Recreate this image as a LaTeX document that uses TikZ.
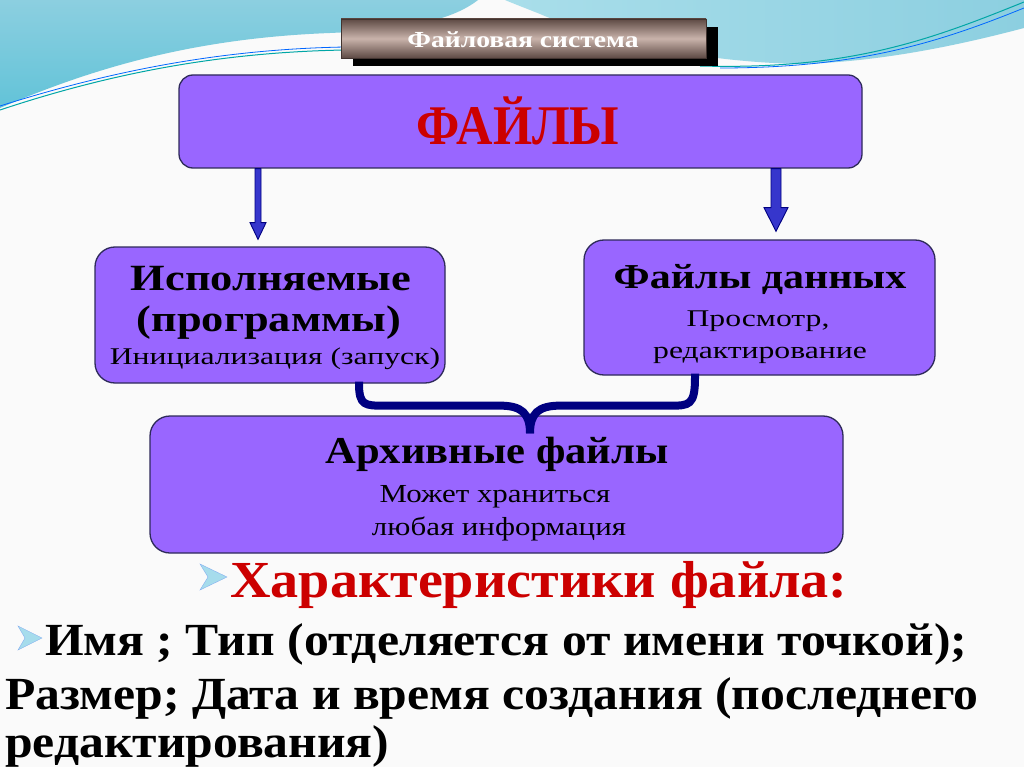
\documentclass[tikz,border=0pt]{standalone}
\usepackage{fontspec}
\setmainfont{Liberation Serif}
\newfontfamily\capfont[FakeStretch=1.08]{Liberation Serif}
\newfontfamily\wideB[FakeStretch=1.2]{Liberation Serif}
\newfontfamily\wideR[FakeStretch=1.32]{Liberation Serif}
\newfontfamily\archB[FakeStretch=1.12]{Liberation Serif}
\newfontfamily\archR[FakeStretch=1.19]{Liberation Serif}
\newfontfamily\tallfont[FakeStretch=0.9]{Liberation Serif}
\usetikzlibrary{calc}
\definecolor{boxpurple}{HTML}{9966FF}
\definecolor{boxedge}{HTML}{2E2A5A}
\definecolor{redtext}{HTML}{CC0000}
\definecolor{arrowblue}{HTML}{3636CC}
\definecolor{navy}{HTML}{000080}
\definecolor{bgblueA}{HTML}{62C3D8}
\definecolor{bgblueB}{HTML}{8CCFE0}
\definecolor{bgblueC}{HTML}{A9DEEA}
\definecolor{bullblue}{HTML}{A6DCEC}
\definecolor{metaldark}{HTML}{5E4A44}
\definecolor{metallight}{HTML}{C9B3AB}
\tikzset{
  purplebox/.style={draw=boxedge, line width=1.3pt, fill=boxpurple, rounded corners=#1},
  purplebox/.default=14pt,
  arrowshape/.style={draw=navy, line width=0.9pt, fill=arrowblue},
  bracepath/.style={draw=navy, line width=8pt, line cap=butt},
  bullet/.style={fill=bullblue, draw=bullblue!80!blue, line width=0.4pt},
  txt/.style={inner sep=0pt, anchor=base},
}
\begin{document}
\begin{tikzpicture}[x=1pt,y=-1pt]
\useasboundingbox (0,0) rectangle (1024,767);
% background
\fill[white!96!gray] (0,0) rectangle (1024,767);
% top-left blue wave
\shade[top color=bgblueB, bottom color=bgblueA] (0,0) -- (478,0) .. controls (450,22) and (400,30) .. (330,33)
  .. controls (200,38) and (100,65) .. (0,108) -- cycle;
% top-right blue wave
\shade[left color=bgblueC, right color=bgblueB] (505,0) -- (1024,0) -- (1024,28)
  .. controls (960,45) and (880,62) .. (800,64) .. controls (700,62) and (600,40) .. (540,14) .. controls (525,8) and (512,3) .. (505,0) -- cycle;
% thin lines
\draw[teal!70!cyan, line width=1pt] (0,110) .. controls (120,70) and (230,52) .. (345,50);
\draw[blue!60!cyan, line width=0.8pt] (0,106) .. controls (120,68) and (230,49) .. (345,47);
\draw[teal!70!cyan, line width=1pt] (1024,2) .. controls (930,40) and (850,70) .. (700,66);
\draw[blue!60!cyan, line width=0.8pt] (1024,8) .. controls (940,42) and (860,68) .. (720,68);

% title box
\fill[black] (353,27) rectangle (718,66);
\node[shade, top color=metaldark, bottom color=metaldark, middle color=metallight,
  draw=metaldark!70!black, line width=0.4pt, minimum width=365pt, minimum height=39pt,
  inner sep=0pt] (title) at (523.5,38.5) {};
\node[txt, text=white, font=\wideB\bfseries\fontsize{23}{23}\selectfont] (titletext) at (523,48) {Файловая система};

% main boxes
\node[purplebox=14pt, minimum width=683pt, minimum height=93pt, inner sep=0pt] (files) at (520.5,121.5) {};
\node[txt, text=redtext, font=\tallfont\bfseries\fontsize{56}{56}\selectfont] (filestext) at (518,145) {ФАЙЛЫ};

\node[purplebox=20pt, minimum width=350pt, minimum height=136pt, inner sep=0pt] (exec) at (270,315) {};
\node[txt, font=\wideB\bfseries\fontsize{37}{37}\selectfont] (exec1) at (271,290) {Исполняемые};
\node[txt, font=\wideB\bfseries\fontsize{37}{37}\selectfont] (exec2) at (269,331) {(программы)};
\node[txt, font=\wideR\fontsize{24}{24}\selectfont] (exec3) at (275,364) {Инициализация (запуск)};

\node[purplebox=20pt, minimum width=351pt, minimum height=135pt, inner sep=0pt] (data) at (759.5,307.5) {};
\node[txt, font=\wideB\bfseries\fontsize{35}{35}\selectfont] (data1) at (760,288) {Файлы данных};
\node[txt, font=\wideR\fontsize{24}{24}\selectfont] (data2) at (758,326) {Просмотр,};
\node[txt, font=\wideR\fontsize{24}{24}\selectfont] (data3) at (760,358) {редактирование};

\node[purplebox=20pt, minimum width=693pt, minimum height=137pt, inner sep=0pt] (arch) at (496.5,484.5) {};
\node[txt, font=\archB\bfseries\fontsize{38}{38}\selectfont] (arch1) at (497,463) {Архивные файлы};
\node[txt, font=\archR\fontsize{26}{26}\selectfont] (arch2) at (495,502) {Может храниться};
\node[txt, font=\archR\fontsize{26}{26}\selectfont] (arch3) at (499,535) {любая информация};

% arrows
\coordinate (lx) at (258,0);
\coordinate (rx) at (776,0);
\draw[arrowshape] ($(files.south -| lx)+(-3,0)$) -- ++(0,54) -- ++(-5,0) -- ($(exec.north -| lx)+(0,-7)$)
  -- ($(files.south -| lx)+(8,54)$) -- ++(-5,0) -- ($(files.south -| lx)+(3,0)$) -- cycle;
\draw[arrowshape] ($(files.south -| rx)+(-5,0)$) -- ++(0,39) -- ++(-7,0) -- ($(data.north -| rx)+(0,-8)$)
  -- ($(files.south -| rx)+(12,39)$) -- ++(-7,0) -- ($(files.south -| rx)+(5,0)$) -- cycle;

% brace
\coordinate (bl) at (359,0);
\coordinate (br) at (695,0);
\coordinate (bc) at (530,0);
\draw[bracepath] ($(exec.south -| bl)+(0,-2)$) -- ++(0,2)
  .. controls ($(exec.south -| bl)+(0,22)$) and ($(exec.south -| bl)+(6,22)$) .. ($(exec.south -| bl)+(25,22)$)
  -- ($(exec.south -| bc)+(-30,22)$)
  .. controls ($(exec.south -| bc)+(-8,22)$) and ($(exec.south -| bc)+(0,30)$) .. ($(arch.north -| bc)+(0,18)$);
\draw[bracepath] ($(data.south -| br)+(0,-2)$) -- ++(0,4)
  .. controls ($(data.south -| br)+(0,30)$) and ($(data.south -| br)+(-6,30)$) .. ($(data.south -| br)+(-25,30)$)
  -- ($(exec.south -| bc)+(30,22)$)
  .. controls ($(exec.south -| bc)+(8,22)$) and ($(exec.south -| bc)+(0,30)$) .. ($(arch.north -| bc)+(0,18)$);

% characteristics
\path[bullet] (200,564) -- (227,577) -- (200,590) -- (208,577) -- cycle;
\node[txt, anchor=base west, text=redtext, font=\capfont\bfseries\fontsize{52}{52}\selectfont] (charh) at (230,597) {Характеристики файла:};
\path[bullet] (18,626) -- (42,638) -- (18,650) -- (25,638) -- cycle;
\node[txt, anchor=base west, font=\capfont\bfseries\fontsize{46}{46}\selectfont] (line1) at (45,655) {Имя ; Тип (отделяется от имени точкой);};
\node[txt, anchor=base west, font=\capfont\bfseries\fontsize{46}{46}\selectfont] (line2) at (5,709) {Размер; Дата и время создания (последнего};
\node[txt, anchor=base west, font=\capfont\bfseries\fontsize{46}{46}\selectfont] (line3) at (5,757) {редактирования)};
\end{tikzpicture}
\end{document}
